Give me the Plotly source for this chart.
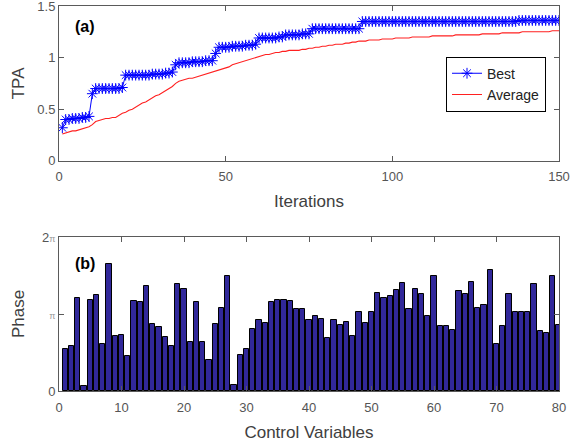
import numpy as np
import plotly.graph_objects as go

# ---------------- data ----------------
iterations = list(range(1, 151))

best_tpa = [
    0.32,
    0.40, 0.40, 0.41, 0.41, 0.41, 0.42, 0.42, 0.43,
    0.65,
    0.70, 0.70, 0.70, 0.70, 0.70, 0.70, 0.70, 0.70, 0.71,
    0.83, 0.83, 0.83, 0.83, 0.83, 0.83, 0.83, 0.83, 0.84, 0.84, 0.84, 0.84, 0.85, 0.85, 0.86,
    0.93,
    0.95, 0.95, 0.95, 0.95, 0.96, 0.96, 0.96, 0.96, 0.97, 0.97, 0.97,
    1.04,
    1.10, 1.10, 1.10, 1.10, 1.11, 1.11, 1.11, 1.11, 1.12, 1.12, 1.12, 1.13,
    1.19, 1.19, 1.19, 1.19, 1.19, 1.19, 1.20, 1.20,
    1.22, 1.22, 1.22, 1.22, 1.22, 1.23, 1.23, 1.23,
    1.28, 1.28, 1.28, 1.28, 1.28, 1.28, 1.28, 1.28, 1.28, 1.28, 1.28, 1.28, 1.28, 1.28, 1.28,
    1.35, 1.35, 1.35, 1.35, 1.35, 1.35, 1.35, 1.35, 1.35, 1.35,
    1.35, 1.35, 1.35, 1.35, 1.35, 1.35, 1.35, 1.35, 1.35, 1.35,
    1.35, 1.35, 1.35, 1.35, 1.35, 1.35, 1.35, 1.35, 1.35, 1.35,
    1.35, 1.35, 1.35, 1.35, 1.35, 1.35, 1.35, 1.35, 1.35, 1.35,
    1.35, 1.35, 1.35, 1.35, 1.35, 1.35, 1.35,
    1.36, 1.36, 1.36, 1.36, 1.36, 1.36, 1.36, 1.36, 1.36, 1.36, 1.36, 1.36, 1.36,
]

average_tpa = [
    0.26, 0.27, 0.28, 0.29, 0.29, 0.30, 0.31, 0.32, 0.33, 0.35,
    0.38, 0.39, 0.40, 0.41, 0.41, 0.42, 0.42, 0.44, 0.46, 0.47,
    0.49, 0.50, 0.52, 0.54, 0.56, 0.57, 0.59, 0.61, 0.63, 0.64,
    0.66, 0.68, 0.70, 0.72, 0.75, 0.77, 0.78, 0.79, 0.80, 0.80,
    0.81, 0.82, 0.83, 0.84, 0.85, 0.86, 0.87, 0.88, 0.89, 0.90,
    0.91, 0.93, 0.94, 0.95, 0.96, 0.97, 0.98, 0.99, 1.00, 1.01,
    1.02, 1.03, 1.03, 1.04, 1.05, 1.05, 1.06, 1.06, 1.07, 1.07,
    1.07, 1.07, 1.08, 1.08, 1.09, 1.09, 1.10, 1.10, 1.11, 1.11,
    1.12, 1.12, 1.13, 1.13, 1.13, 1.14, 1.14, 1.15, 1.15, 1.16,
    1.16, 1.16, 1.17, 1.17, 1.17, 1.17, 1.18, 1.18, 1.18, 1.18,
    1.19, 1.19, 1.19, 1.19, 1.19, 1.20, 1.20, 1.20, 1.20, 1.20,
    1.20, 1.21, 1.21, 1.21, 1.21, 1.21, 1.21, 1.21, 1.22, 1.22,
    1.22, 1.22, 1.22, 1.22, 1.22, 1.22, 1.23, 1.23, 1.23, 1.23,
    1.23, 1.23, 1.24, 1.24, 1.24, 1.24, 1.24, 1.24, 1.25, 1.25,
    1.25, 1.25, 1.25, 1.25, 1.25, 1.25, 1.25, 1.26, 1.26, 1.26,
]

control_variables = list(range(1, 81))

# phase in units of pi
phase_over_pi = [
    0.55, 0.58, 1.21, 0.07, 1.18, 1.25, 0.61, 1.65, 0.71, 0.73,
    0.46, 1.17, 1.15, 1.36, 0.87, 0.83, 0.70, 0.59, 1.39, 1.32,
    0.63, 1.16, 0.64, 0.40, 0.87, 1.08, 1.49, 0.08, 0.47, 0.54,
    0.81, 0.92, 0.88, 1.16, 1.18, 1.18, 1.17, 1.07, 1.07, 0.92,
    0.98, 0.94, 0.69, 0.92, 0.86, 0.89, 0.71, 1.03, 0.88, 1.03,
    1.27, 1.21, 1.23, 1.31, 1.40, 1.06, 1.33, 1.26, 0.97, 1.49,
    0.84, 0.84, 0.79, 1.30, 1.26, 1.42, 1.08, 1.12, 1.57, 0.61,
    0.84, 1.26, 1.03, 1.02, 1.03, 1.39, 0.78, 0.75, 1.49, 0.86,
]
phase = [v * np.pi for v in phase_over_pi]

top_xticks = [0, 50, 100, 150]
top_yticks = [0, 0.5, 1, 1.5]
bottom_xticks = [0, 10, 20, 30, 40, 50, 60, 70, 80]
bottom_yticks = [0, np.pi, 2 * np.pi]
bottom_yticktext = ["0", "<span style='font-size:9px;color:#999999'>π</span>",
                    "2<span style='font-size:9px;color:#999999'>π</span>"]

# ---------------- figure ----------------
FONT = "Liberation Sans, Arial, Helvetica, sans-serif"
AXCOL = "#5a5a5a"
TICKFONT = dict(family=FONT, size=13, color="#555555")
TITLEFONT = dict(family=FONT, size=17, color="#404040")

fig = go.Figure()

fig.add_trace(go.Scatter(
    x=iterations, y=best_tpa, name="Best", mode="lines+markers",
    line=dict(color="#0000FF", width=1),
    marker=dict(symbol="asterisk-open", size=9, color="#0000FF",
                line=dict(color="#0000FF", width=1)),
    xaxis="x", yaxis="y",
))
fig.add_trace(go.Scatter(
    x=iterations, y=average_tpa, name="Average", mode="lines",
    line=dict(color="#FF2020", width=1.1),
    xaxis="x", yaxis="y",
))
fig.add_trace(go.Bar(
    x=control_variables, y=phase, name="Phase", showlegend=False,
    width=0.85,
    marker=dict(color="#31289A", line=dict(color="#000000", width=1)),
    xaxis="x2", yaxis="y2",
))

common_axis = dict(
    showline=True, linecolor=AXCOL, linewidth=1, mirror="ticks",
    ticks="inside", ticklen=5, tickcolor=AXCOL, showgrid=False,
    zeroline=False, tickfont=TICKFONT, automargin=False,
    ticklabeloverflow="allow",
)

fig.update_layout(
    width=570, height=447,
    margin=dict(l=59, r=11, t=6, b=56, autoexpand=False),
    paper_bgcolor="white", plot_bgcolor="white",
    font=dict(family=FONT),
    xaxis=dict(domain=[0, 1], anchor="y", range=[0, 150],
               tickvals=top_xticks, ticklabelstandoff=4,
               title=dict(text="Iterations", font=TITLEFONT, standoff=11),
               **common_axis),
    yaxis=dict(domain=[0.598, 1.0], anchor="x", range=[0, 1.5],
               tickvals=top_yticks,
               title=dict(text="TPA", font=TITLEFONT, standoff=8),
               **common_axis),
    xaxis2=dict(domain=[0, 1], anchor="y2", range=[0, 80],
                tickvals=bottom_xticks, ticklabelstandoff=4,
                title=dict(text="Control Variables", font=TITLEFONT, standoff=12),
                **common_axis),
    yaxis2=dict(domain=[0, 0.4], anchor="x2", range=[0, 2 * np.pi],
                tickvals=bottom_yticks, ticktext=bottom_yticktext,
                title=dict(text="Phase", font=TITLEFONT, standoff=12),
                **common_axis),
    legend=dict(
        x=0.774, y=0.797, xanchor="left", yanchor="middle",
        bgcolor="white", bordercolor="#000000", borderwidth=1,
        font=dict(family=FONT, size=14, color="#222222"),
        tracegroupgap=0, itemwidth=30,
    ),
    bargap=0,
    annotations=[
        dict(text="<b>(a)</b>", xref="x domain", yref="y domain",
             x=0.028, y=0.865, xanchor="left", yanchor="middle",
             showarrow=False, font=dict(family=FONT, size=16, color="#000000")),
        dict(text="<b>(b)</b>", xref="x2 domain", yref="y2 domain",
             x=0.028, y=0.828, xanchor="left", yanchor="middle",
             showarrow=False, font=dict(family=FONT, size=16, color="#000000")),
    ],
)

fig.write_html("out.html")
